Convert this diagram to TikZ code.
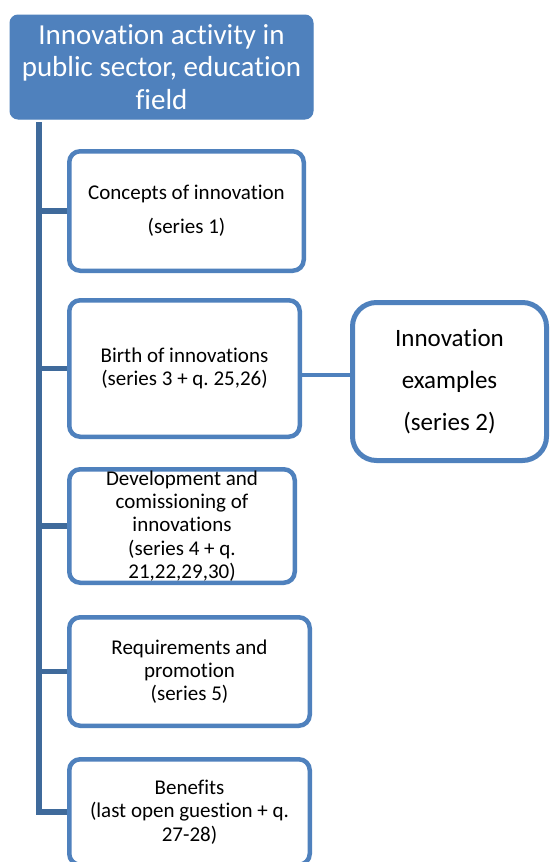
\documentclass[tikz,border=0pt]{standalone}
\usepackage{fontspec}
\setmainfont{Carlito}[Ligatures=NoCommon]
\frenchspacing
\definecolor{boxblue}{HTML}{4F81BD}
\definecolor{trunkblue}{HTML}{3F6A9B}
\tikzset{
  headbox/.style={draw=boxblue, fill=boxblue, line width=1pt, rounded corners=8pt,
    text=white, align=center, inner sep=0pt,
    font=\fontsize{29}{32.5}\selectfont},
  itembox/.style={draw=boxblue, fill=white, line width=4.5pt, rounded corners=11pt,
    text=black, align=center, inner sep=0pt,
    font=\fontsize{21}{23.3}\selectfont},
  widebox/.style={itembox, font=\fontsize{21}{34}\selectfont},
  sidebox/.style={draw=boxblue, fill=white, line width=5pt, rounded corners=24pt,
    text=black, align=center, inner sep=0pt,
    font=\fontsize{25}{42}\selectfont},
  trunk/.style={draw=trunkblue, line width=6pt},
  branch/.style={draw=trunkblue, line width=5.5pt},
  link/.style={draw=boxblue, line width=4pt}
}
\begin{document}
\begin{tikzpicture}[x=1pt,y=-1pt]
\useasboundingbox (0,0) rectangle (549,862);
\clip (0,0) rectangle (549,862);
\fill[white] (0,0) rectangle (549,862);

% root box
\node[headbox, minimum width=303pt, minimum height=104pt] (head) at (161.5,67)
  {Innovation activity in\\public sector, education\\field};

% child boxes
\node[widebox, minimum width=234.5pt, minimum height=119.5pt] (concepts) at (186.5,211)
  {Concepts of innovation\\(series 1)};
\node[itembox, minimum width=230.5pt, minimum height=136.5pt] (birth) at (184.5,368.5)
  {Birth of innovations\\(series 3 + q. 25,26)};
\node[itembox, minimum width=225.5pt, minimum height=113.5pt] (devel) at (182,526)
  {Development and\\comissioning of\\innovations\\(series 4 + q.\\21,22,29,30)};
\node[itembox, minimum width=240.5pt, minimum height=108.5pt] (req) at (189.5,671.5)
  {Requirements and\\promotion\\(series 5)};
\node[itembox, minimum width=240.5pt, minimum height=105.5pt] (ben) at (189.5,812)
  {Benefits\\(last open guestion + q.\\27-28)};

% side box
\node[sidebox, minimum width=194pt, minimum height=158pt] (examples) at (449.5,381.5)
  {Innovation\\examples\\(series 2)};

% trunk and branches
\coordinate (t0) at (38.5,122);
\draw[trunk] (t0) |- (ben.west);
\draw[branch] (t0 |- concepts.west) -- (concepts.west);
\draw[branch] (t0 |- birth.west) -- (birth.west);
\draw[branch] (t0 |- devel.west) -- (devel.west);
\draw[branch] (t0 |- req.west) -- (req.west);

% link to side box
\coordinate (c1) at ([yshift=-6.5pt]birth.east);
\draw[link] (c1) -- (c1 -| examples.west);
\end{tikzpicture}
\end{document}
